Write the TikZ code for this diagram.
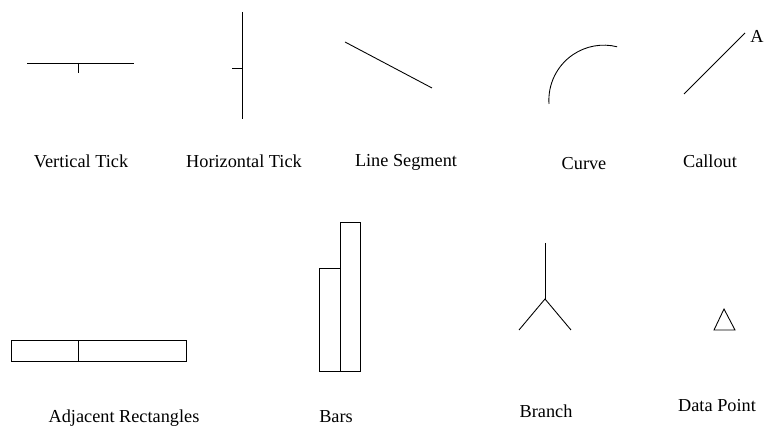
\documentclass[tikz,border=0pt]{standalone}
\usepackage{fontspec}
\setmainfont{Liberation Serif}
\usepackage{tikz}
\definecolor{figline}{RGB}{0,0,0}
\tikzset{
  sc/.style  ={draw=figline, line width=0.5pt, line cap=butt},
  lab/.style ={font=\fontsize{10.4pt}{12pt}\selectfont, inner sep=0pt, anchor=base},
}
\begin{document}
\begin{tikzpicture}[x=0.02cm,y=0.02cm]
  \useasboundingbox (0,0) rectangle (764,431);
  % top row
  \draw[sc] (27,368) -- (134,368);
  \draw[sc] (78,368) -- (78,358);
  \node[lab] (vtick) at (81,263) {Vertical Tick};
  \draw[sc] (242,419) -- (242,312);
  \draw[sc] (232,363) -- (242,363);
  \node[lab] (htick) at (244,263) {Horizontal Tick};
  \draw[sc] (345,389) -- (432,343);
  \node[lab] (seg) at (406,264) {Line Segment};
  \draw[sc] (549,327) arc[start angle=184, end angle=76, radius=55];
  \node[lab] (curve) at (584,261) {Curve};
  \draw[sc] (684,337) -- (745,398);
  \node[lab] (calla) at (757,388) {A};
  \node[lab] (callout) at (710,263) {Callout};
  % bottom row
  \draw[sc] (11,70) rectangle (186,91);
  \draw[sc] (78,70) -- (78,91);
  \node[lab] (adjrect) at (124,8) {Adjacent Rectangles};
  \draw[sc] (319,60) rectangle (340,163);
  \draw[sc] (340,60) rectangle (360,209);
  \node[lab] (bars) at (336,8) {Bars};
  \draw[sc] (545,188) -- (545,132);
  \draw[sc] (519,101) -- (545,132) -- (571,101);
  \node[lab] (branch) at (546,13) {Branch};
  \draw[sc] (724,122) -- (714,101) -- (735,101) -- cycle;
  \node[lab] (datapt) at (717,19) {Data Point};
\end{tikzpicture}
\end{document}
